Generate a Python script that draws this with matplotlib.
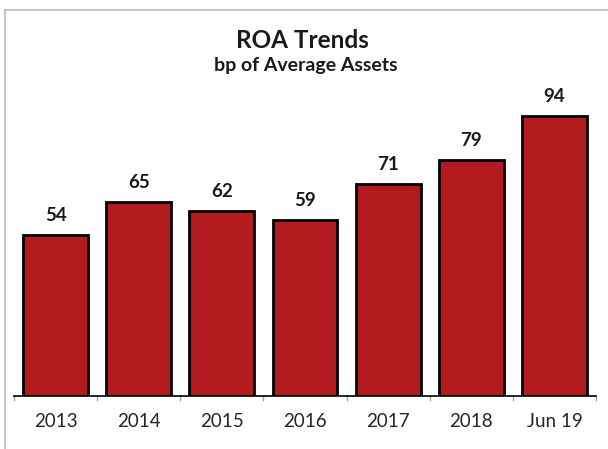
import matplotlib
matplotlib.use("Agg")
import matplotlib.pyplot as plt

categories = ["2013", "2014", "2015", "2016", "2017", "2018", "Jun 19"]
values = [54, 65, 62, 59, 71, 79, 94]

title = "ROA Trends"
subtitle = "bp of Average Assets"

plt.rcParams['font.family'] = ['Lato', 'DejaVu Sans']

W, H = 608, 449
fig = plt.figure(figsize=(W / 100, H / 100), dpi=100)

# outer border (left and top)
fig.add_artist(plt.Line2D([4.5 / W, 4.5 / W], [0, 1 - 9.5 / H], transform=fig.transFigure,
                          color="#c8c8c8", lw=1.5))
fig.add_artist(plt.Line2D([4.5 / W, 1], [1 - 9.5 / H, 1 - 9.5 / H], transform=fig.transFigure,
                          color="#c8c8c8", lw=1.5))

left, right = 14 / W, 596 / W
bottom = 1 - 395.5 / H
ymax = 100
px_per_unit = 2.975
top = 1 - (395.5 - ymax * px_per_unit) / H
ax = fig.add_axes([left, bottom, right - left, top - bottom])

x = list(range(len(categories)))
ax.bar(x, values, width=0.78, color="#B31B1F", edgecolor="black", linewidth=2, zorder=3)
for xi, v in zip(x, values):
    ax.text(xi, v + 4.7, str(v), ha="center", va="baseline", fontsize=13.5, fontweight="bold",
            color="#1a1a1a")

ax.set_xlim(-0.5, len(categories) - 0.5)
ax.set_ylim(0, ymax)
for s in ["top", "right", "left"]:
    ax.spines[s].set_visible(False)
ax.spines["bottom"].set_color("black")
ax.spines["bottom"].set_linewidth(1.2)
ax.set_yticks([])
ax.set_xticks(x)
ax.set_xticklabels(categories, fontsize=13.5, color="#262626")
ax.tick_params(axis="x", length=0, pad=12.5)
for b in [i - 0.5 for i in range(len(categories) + 1)]:
    ax.plot([b, b], [0, -1.6], color="#a0a0a0", lw=1, clip_on=False, zorder=2)

fig.text(302 / W, 1 - 48 / H, title, ha="center", va="baseline", fontsize=17.5,
         fontweight="bold", color="#1a1a1a")
fig.text(306 / W, 1 - 71 / H, subtitle, ha="center", va="baseline", fontsize=14,
         fontweight="bold", color="#1a1a1a")

fig.savefig("out.png", dpi=100)
